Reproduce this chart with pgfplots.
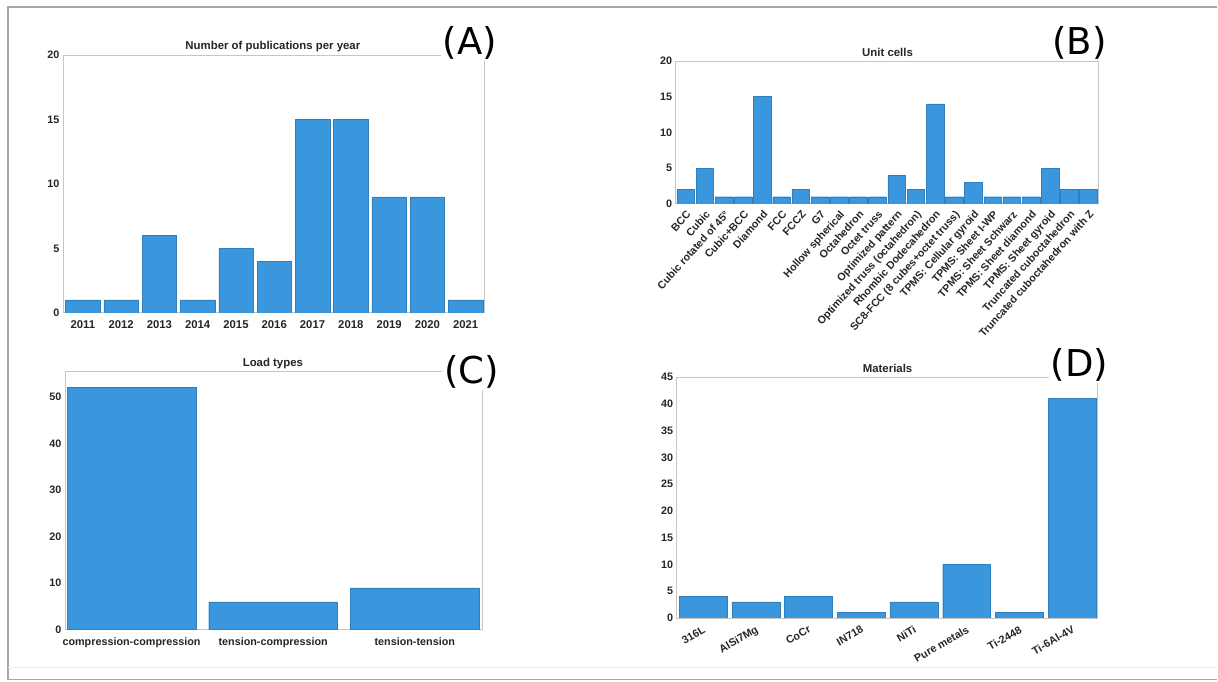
\documentclass[border=0pt]{standalone}
\usepackage{fontspec}
\setmainfont{Liberation Sans}
\newfontfamily\dejavu{DejaVu Sans}
\usepackage{pgfplots}
\pgfplotsset{compat=1.18}
\definecolor{barblue}{RGB}{58,150,221}
\pgfplotsset{panel/.style={
  scale only axis, anchor=south west, ybar, bar width=0.9,
  axis line style={gray!45, line width=0.8pt},
  tick style={draw=none},
  ticklabel style={font=\bfseries\fontsize{10.8}{12}\selectfont, text=black!85},
  /pgf/number format/assume math mode=true,
  ymin=0,
}}
\begin{document}
\begin{tikzpicture}[x=1pt,y=1pt]
\path[fill=white] (0,0) rectangle (1218,682);
\draw[gray!70, line width=1.2pt] (1218,675) -- (8,675) -- (8,2) -- (1218,2);
\draw[gray!15, line width=0.8pt] (8,14) -- (1218,14);

% (A)
\begin{axis}[panel, at={(63pt,369pt)}, width=422pt, height=258pt,
  xmin=-0.52, xmax=10.5, ymax=20, ytick={0,5,10,15,20},
  xtick={0,...,10},
  xticklabel style={font=\bfseries\fontsize{11.3}{12}\selectfont},
  xticklabels={2011,2012,2013,2014,2015,2016,2017,2018,2019,2020,2021}]
\addplot[fill=barblue, draw=barblue!85!black, line width=0.4pt]
  coordinates {(0,1)(1,1)(2,6)(3,1)(4,5)(5,4)(6,15)(7,15)(8,9)(9,9)(10,1)};
\end{axis}

% (B)
\begin{axis}[panel, at={(676pt,478pt)}, width=423pt, height=143pt,
  xmin=-0.52, xmax=21.52, ymax=20, ytick={0,5,10,15,20}, bar width=0.92,
  xtick={0,...,21},
  xticklabel style={rotate=48, anchor=north east, font=\bfseries\fontsize{10.7}{11}\selectfont, inner sep=1pt},
  xticklabels={BCC,Cubic,Cubic rotated of 45°,Cubic+BCC,Diamond,FCC,FCCZ,G7,Hollow spherical,Octahedron,Octet truss,Optimized pattern,{Optimized truss (octahedron)},Rhombic Dodecahedron,{SC8-FCC (8 cubes+octet truss)},{TPMS: Cellular gyroid},{TPMS: Sheet  I-WP},{TPMS: Sheet Schwarz},{TPMS: Sheet diamond},{TPMS: Sheet gyroid},Truncated cuboctahedron,Truncated cuboctahedron with Z}]
\addplot[fill=barblue, draw=barblue!85!black, line width=0.4pt]
  coordinates {(0,2)(1,5)(2,1)(3,1)(4,15)(5,1)(6,2)(7,1)(8,1)(9,1)(10,1)(11,4)(12,2)(13,14)(14,1)(15,3)(16,1)(17,1)(18,1)(19,5)(20,2)(21,2)};
\end{axis}

% (C)
\begin{axis}[panel, at={(65pt,52pt)}, width=418pt, height=258pt,
  xmin=-0.47, xmax=2.48, ymax=55.4, ytick={0,10,20,30,40,50}, bar width=0.91,
  xtick={0,1,2},
  xticklabels={compression-compression,tension-compression,tension-tension}]
\addplot[fill=barblue, draw=barblue!85!black, line width=0.4pt]
  coordinates {(0,52)(1,6)(2,9)};
\end{axis}

% (D)
\begin{axis}[panel, at={(677pt,63.7pt)}, width=421pt, height=241pt,
  xmin=-0.5, xmax=7.48, ymax=45, ytick={0,5,...,45}, bar width=0.91,
  xtick={0,...,7},
  xticklabel style={rotate=30, anchor=north east, font=\bfseries\fontsize{10.8}{12}\selectfont, inner sep=2pt},
  xticklabels={316L,AlSi7Mg,CoCr,IN718,NiTi,Pure metals,Ti-2448,Ti-6Al-4V}]
\addplot[fill=barblue, draw=barblue!85!black, line width=0.4pt]
  coordinates {(0,4)(1,3)(2,4)(3,1)(4,3)(5,10)(6,1)(7,41)};
\end{axis}

% titles
\begin{scope}[every node/.style={font=\bfseries\fontsize{11.4}{13}\selectfont, text=black!85}]
\node at (273,635) {Number of publications per year};
\node at (888,630) {Unit cells};
\node at (273,318) {Load types};
\node at (888,313) {Materials};
\end{scope}
\begin{scope}[every node/.style={font=\dejavu\fontsize{37}{40}\selectfont, fill=white, inner sep=2pt}]
\node at (470,639) {(A)};
\node at (1080,639) {(B)};
\node at (472,310) {(C)};
\node at (1080,317) {(D)};
\end{scope}
\end{tikzpicture}
\end{document}
